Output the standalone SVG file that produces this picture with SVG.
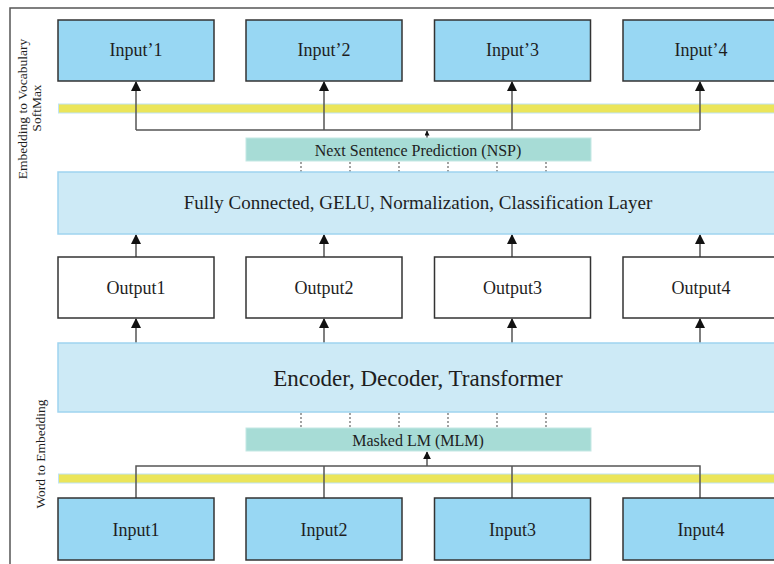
<svg xmlns="http://www.w3.org/2000/svg" width="774" height="564" viewBox="0 0 774 564">
  <style>
    text { font-family: "Liberation Serif", "Times New Roman", serif; fill: #1e1e1e; }
    .blue { fill: #98d7f3; stroke: #333; stroke-width: 1.5; }
    .out { fill: #ffffff; stroke: #333; stroke-width: 1.5; }
    .layer { fill: #cdeaf6; stroke: #9fd4ef; stroke-width: 1.5; }
    .teal { fill: #a7dcd6; stroke: #c4e8e4; stroke-width: 1; }
    .yellow { fill: #ebe55a; stroke: #bfe3f3; stroke-width: 1; }
    .wire { fill: none; stroke: #555; stroke-width: 1.5; }
    .arrow { fill: none; stroke: #555; stroke-width: 1.5; marker-end: url(#head); }
    .dash { fill: none; stroke: #666; stroke-width: 1.2; stroke-dasharray: 2 2; }
    .lbl { font-size: 18px; text-anchor: middle; }
  </style>
  <defs>
    <marker id="head" viewBox="0 0 10 10" refX="9" refY="5" markerWidth="10" markerHeight="10" markerUnits="userSpaceOnUse" orient="auto">
      <path d="M0,0 L10,5 L0,10 z" fill="#111"/>
    </marker>
    <marker id="headM" viewBox="0 0 10 10" refX="9" refY="5" markerWidth="8" markerHeight="8" markerUnits="userSpaceOnUse" orient="auto">
      <path d="M0,0 L10,5 L0,10 z" fill="#111"/>
    </marker>
    <marker id="headS" viewBox="0 0 10 10" refX="9" refY="5" markerWidth="5" markerHeight="5" markerUnits="userSpaceOnUse" orient="auto">
      <path d="M0,0 L10,5 L0,10 z" fill="#111"/>
    </marker>
  </defs>

  <rect width="774" height="564" fill="#ffffff"/>
  <!-- outer frame -->
  <rect x="10" y="8" width="800" height="600" fill="none" stroke="#555" stroke-width="1.5"/>

  <!-- side captions -->
  <text transform="translate(27,109) rotate(-90)" font-size="13.500" text-anchor="middle">Embedding to Vocabulary</text>
  <text transform="translate(41,108) rotate(-90)" font-size="13.500" text-anchor="middle">SoftMax</text>
  <text transform="translate(45,454) rotate(-90)" font-size="13.500" text-anchor="middle">Word to Embedding</text>

  <!-- yellow embedding bars -->
  <rect class="yellow" x="58.500" y="104" width="720" height="9"/>
  <rect class="yellow" x="58.500" y="474" width="720" height="9"/>

  <!-- connectors -->
  <g id="connectors">
    <!-- top fan-out to predicted tokens -->
    <path class="wire" d="M136,130 H700"/>
    <path class="arrow" d="M136,130 V82"/>
    <path class="arrow" d="M324,130 V82"/>
    <path class="arrow" d="M512,130 V82"/>
    <path class="arrow" d="M700,130 V82"/>
    <path class="wire" d="M427,138 V131" marker-end="url(#headS)"/>
    <!-- NSP to classification layer -->
    <path class="dash" d="M301,162 V172 M350,162 V172 M399,162 V172 M448,162 V172 M497,162 V172 M546,162 V172"/>
    <!-- outputs to classification layer -->
    <path class="arrow" d="M136,257 V235"/>
    <path class="arrow" d="M324,257 V235"/>
    <path class="arrow" d="M512,257 V235"/>
    <path class="arrow" d="M700,257 V235"/>
    <!-- encoder to outputs -->
    <path class="arrow" d="M136,343 V319"/>
    <path class="arrow" d="M324,343 V319"/>
    <path class="arrow" d="M512,343 V319"/>
    <path class="arrow" d="M700,343 V319"/>
    <!-- encoder to MLM -->
    <path class="dash" d="M301,413 V428 M350,413 V428 M399,413 V428 M448,413 V428 M497,413 V428 M546,413 V428"/>
    <!-- inputs fan-in -->
    <path class="wire" d="M136,498 V466 H700 V498 M324,466 V498 M512,466 V498"/>
    <path class="wire" d="M427,466 V452" marker-end="url(#headM)"/>
  </g>

  <!-- predicted tokens -->
  <g id="input-p1"><rect class="blue" x="58" y="20" width="156" height="61"/><text class="lbl" x="136" y="56">Input’1</text></g>
  <g id="input-p2"><rect class="blue" x="246" y="20" width="156" height="61"/><text class="lbl" x="324" y="56">Input’2</text></g>
  <g id="input-p3"><rect class="blue" x="434.500" y="20" width="156" height="61"/><text class="lbl" x="512.500" y="56">Input’3</text></g>
  <g id="input-p4"><rect class="blue" x="623" y="20" width="156" height="61"/><text class="lbl" x="701" y="56">Input’4</text></g>

  <!-- NSP head -->
  <g id="nsp"><rect class="teal" x="246" y="138" width="345" height="23"/><text x="418" y="155.500" font-size="16" text-anchor="middle">Next Sentence Prediction (NSP)</text></g>

  <!-- classification layer -->
  <g id="classifier"><rect class="layer" x="58" y="172" width="730" height="62"/><text x="418" y="209" font-size="19" text-anchor="middle">Fully Connected, GELU, Normalization, Classification Layer</text></g>

  <!-- outputs -->
  <g id="output1"><rect class="out" x="58" y="257" width="156" height="61"/><text class="lbl" x="136" y="294">Output1</text></g>
  <g id="output2"><rect class="out" x="246" y="257" width="156" height="61"/><text class="lbl" x="324" y="294">Output2</text></g>
  <g id="output3"><rect class="out" x="434.500" y="257" width="156" height="61"/><text class="lbl" x="512.500" y="294">Output3</text></g>
  <g id="output4"><rect class="out" x="623" y="257" width="156" height="61"/><text class="lbl" x="701" y="294">Output4</text></g>

  <!-- encoder -->
  <g id="encoder"><rect class="layer" x="58" y="343" width="730" height="69"/><text x="418" y="386" font-size="23" text-anchor="middle">Encoder, Decoder, Transformer</text></g>

  <!-- MLM head -->
  <g id="mlm"><rect class="teal" x="246" y="428" width="345" height="23"/><text x="418" y="445.500" font-size="16" text-anchor="middle">Masked LM (MLM)</text></g>

  <!-- inputs -->
  <g id="input1"><rect class="blue" x="58" y="498" width="156" height="62"/><text class="lbl" x="136" y="536">Input1</text></g>
  <g id="input2"><rect class="blue" x="246" y="498" width="156" height="62"/><text class="lbl" x="324" y="536">Input2</text></g>
  <g id="input3"><rect class="blue" x="434.500" y="498" width="156" height="62"/><text class="lbl" x="512.500" y="536">Input3</text></g>
  <g id="input4"><rect class="blue" x="623" y="498" width="156" height="62"/><text class="lbl" x="701" y="536">Input4</text></g>
</svg>
